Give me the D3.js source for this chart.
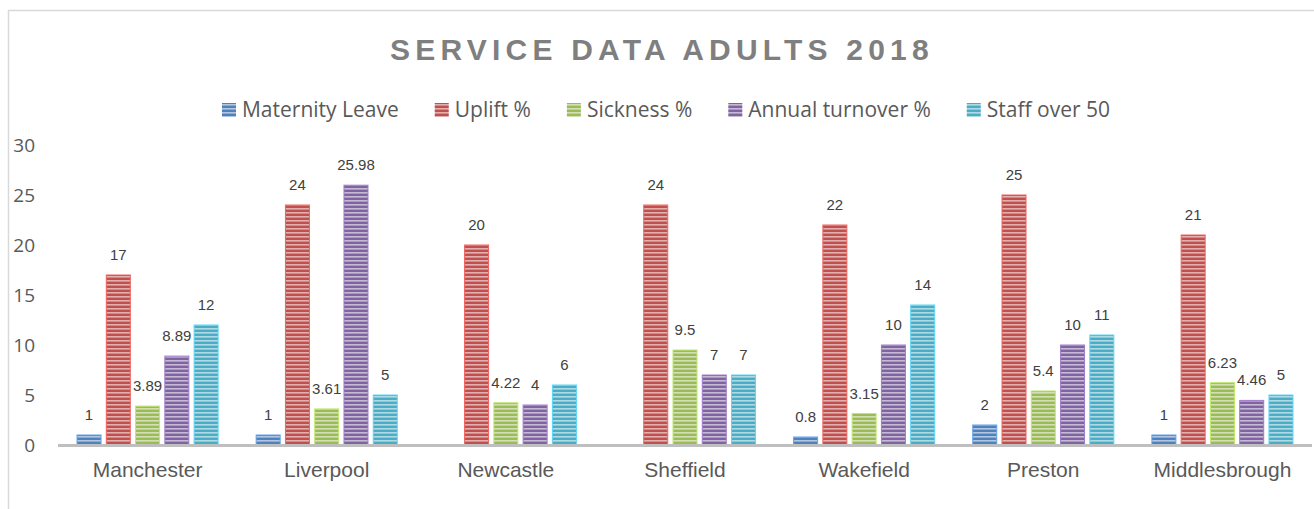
<!DOCTYPE html>
<html>
<head>
<meta charset="utf-8">
<script src="https://cdn.jsdelivr.net/npm/d3@7"></script>
<style>
  body { margin: 0; background: #fff; }
  svg { display: block; }
</style>
</head>
<body>
<svg id="chart"></svg>
<script>
// data
const categories = ["Manchester", "Liverpool", "Newcastle", "Sheffield", "Wakefield", "Preston", "Middlesbrough"];
const seriesNames = ["Maternity Leave", "Uplift %", "Sickness %", "Annual turnover %", "Staff over 50"];
const maternityLeave = [1, 1, null, null, 0.8, 2, 1];
const uplift = [17, 24, 20, 24, 22, 25, 21];
const sickness = [3.89, 3.61, 4.22, 9.5, 3.15, 5.4, 6.23];
const annualTurnover = [8.89, 25.98, 4, 7, 10, 10, 4.46];
const staffOver50 = [12, 5, 6, 7, 14, 11, 5];
const yTicks = [0, 5, 10, 15, 20, 25, 30];

const seriesValues = [maternityLeave, uplift, sickness, annualTurnover, staffOver50];
const colors = ["#4f81bd", "#c0504d", "#9bbb59", "#8064a2", "#4bacc6"];

const width = 1314, height = 509;
const svg = d3.select("#chart").attr("width", width).attr("height", height);

// striped fills (Excel "narrow horizontal" look)
const defs = svg.append("defs");
colors.forEach((c, i) => {
    const p = defs.append("pattern")
        .attr("id", "stripe" + i)
        .attr("patternUnits", "userSpaceOnUse")
        .attr("width", 8).attr("height", 4);
    p.append("rect").attr("width", 8).attr("height", 4).attr("fill", c);
    p.append("rect").attr("y", 0).attr("width", 8).attr("height", 1.6)
        .attr("fill", "#fff").attr("opacity", 0.55);
});

// chart frame
svg.append("rect")
    .attr("x", 8.5).attr("y", 10.5)
    .attr("width", width).attr("height", height)
    .attr("fill", "none").attr("stroke", "#d9d9d9").attr("stroke-width", 1.5);

// title
svg.append("text")
    .attr("x", 662).attr("y", 60)
    .attr("text-anchor", "middle")
    .style("font-family", "'Liberation Sans', Arial, sans-serif")
    .style("font-weight", "bold")
    .style("font-size", "30px")
    .style("letter-spacing", "5.2px")
    .attr("fill", "#7f7f7f")
    .text("SERVICE DATA ADULTS 2018");

// scales
const x0 = d3.scaleBand().domain(categories).range([58, 1312]);
const x1 = d3.scaleBand().domain(d3.range(seriesNames.length))
    .range([0, x0.bandwidth()]).paddingInner(0.18).paddingOuter(0.65);
const y = d3.scaleLinear().domain([0, 30]).range([445, 145]);

// y axis labels
const yAxis = svg.append("g")
    .attr("transform", "translate(35,0)")
    .call(d3.axisLeft(y).tickValues(yTicks).tickSize(0).tickPadding(0));
yAxis.select(".domain").remove();
yAxis.selectAll("text")
    .style("font-family", "'Open Sans', sans-serif")
    .style("font-size", "19px")
    .attr("fill", "#595959");

// bars
const groups = svg.append("g").selectAll("g")
    .data(categories)
    .join("g")
    .attr("transform", d => `translate(${x0(d)},0)`);

const cells = groups.selectAll("g")
    .data((d, ci) => seriesValues.map((vals, si) => ({ si, v: vals[ci] })).filter(e => e.v != null))
    .join("g");

cells.append("rect")
    .attr("x", d => x1(d.si))
    .attr("y", d => y(d.v))
    .attr("width", x1.bandwidth())
    .attr("height", d => y(0) - y(d.v))
    .attr("fill", d => `url(#stripe${d.si})`)
    .attr("stroke", d => d3.color(colors[d.si]).brighter(0.6))
    .attr("stroke-width", 1);

cells.append("text")
    .attr("x", d => x1(d.si) + x1.bandwidth() / 2)
    .attr("y", d => y(d.v) - 15)
    .attr("text-anchor", "middle")
    .style("font-family", "'Liberation Sans', Arial, sans-serif")
    .style("font-size", "15px")
    .attr("fill", "#404040")
    .text(d => d.v);

// baseline
svg.append("line")
    .attr("x1", x0.range()[0]).attr("x2", x0.range()[1])
    .attr("y1", y(0) + 0.5).attr("y2", y(0) + 0.5)
    .attr("stroke", "#bfbfbf").attr("stroke-width", 3);

// category axis
const xAxis = svg.append("g")
    .attr("transform", `translate(0,${y(0)})`)
    .call(d3.axisBottom(x0).tickSize(0).tickPadding(17));
xAxis.select(".domain").remove();
xAxis.selectAll("text")
    .style("font-family", "'Liberation Sans', Arial, sans-serif")
    .style("font-size", "21px")
    .attr("fill", "#595959");

// legend
const legend = svg.append("g");
let lx = 0;
seriesNames.forEach((name, i) => {
    const item = legend.append("g").attr("transform", `translate(${lx},0)`);
    item.append("rect")
        .attr("x", 0).attr("y", 103)
        .attr("width", 14).attr("height", 14)
        .attr("fill", `url(#stripe${i})`);
    const t = item.append("text")
        .attr("x", 20).attr("y", 117)
        .style("font-family", "'Open Sans', sans-serif")
        .style("font-size", "21px")
        .attr("fill", "#595959")
        .text(name);
    lx += 20 + t.node().getComputedTextLength() + 36;
});
const legendWidth = lx - 36;
legend.attr("transform", `translate(${666 - legendWidth / 2},0)`);
</script>
</body>
</html>
